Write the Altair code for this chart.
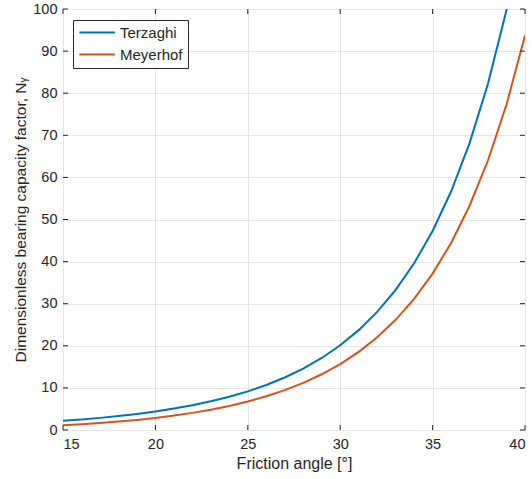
import altair as alt
import pandas as pd

# Friction angle in degrees
angle = list(range(15, 41))

# Bearing capacity factor N_gamma for each friction angle
terzaghi = [2.17, 2.50, 2.88, 3.32, 3.82, 4.41, 5.09, 5.88, 6.81, 7.90,
            9.18, 10.69, 12.47, 14.59, 17.11, 20.12, 23.72, 28.05, 33.27, 39.59,
            47.28, 56.65, 68.14, 82.28, 99.75, 121.45]
meyerhof = [1.13, 1.38, 1.66, 2.00, 2.40, 2.87, 3.42, 4.07, 4.82, 5.72,
            6.77, 8.00, 9.46, 11.19, 13.24, 15.67, 18.56, 22.02, 26.17, 31.15,
            37.15, 44.43, 53.27, 64.07, 77.31, 93.69]

methods = ["Terzaghi", "Meyerhof"]
colors = ["#0072BD", "#D95319"]

x_ticks = [15, 20, 25, 30, 35, 40]
y_ticks = [0, 10, 20, 30, 40, 50, 60, 70, 80, 90, 100]

W, H = 462, 421
INK = "#262626"
FONT = "Liberation Sans"

df = pd.DataFrame({
    "angle": angle * 2,
    "N": terzaghi + meyerhof,
    "method": ["Terzaghi"] * len(angle) + ["Meyerhof"] * len(angle),
})
xt = pd.DataFrame({"angle": x_ticks})
yt = pd.DataFrame({"N": y_ticks})

x_scale = alt.Scale(domain=[15, 40], nice=False, zero=False)
y_scale = alt.Scale(domain=[0, 100], nice=False)

x_axis = alt.Axis(values=x_ticks, title="Friction angle [°]", format="d",
                  labelPadding=7, titlePadding=5)
y_axis = alt.Axis(values=y_ticks, title="Dimensionless bearing capacity factor, Nᵧ",
                  format="d", labelPadding=6, titlePadding=4, titleFontSize=15.5)

# Legend line: a long horizontal stroke starting at the symbol's left edge
legend = alt.Legend(
    title=None, orient="none", legendX=10, legendY=11,
    symbolType="M -1 0 L 4.8 0", symbolSize=150, symbolStrokeWidth=2,
    labelFont=FONT, labelFontSize=15, labelColor=INK,
    fillColor="white", strokeColor=INK, padding=5,
    rowPadding=6, labelOffset=27,
)

lines = alt.Chart(df).mark_line(strokeWidth=2, clip=True).encode(
    x=alt.X("angle:Q", scale=x_scale, axis=x_axis),
    y=alt.Y("N:Q", scale=y_scale, axis=y_axis),
    color=alt.Color(
        "method:N",
        scale=alt.Scale(domain=methods, range=colors),
        sort=methods,
        legend=legend,
    ),
)

# Inward tick marks on all four sides of the box
tick_style = dict(color=INK, strokeWidth=1)
bottom_ticks = alt.Chart(xt).mark_rule(**tick_style).encode(
    x=alt.X("angle:Q", scale=x_scale), y=alt.value(H), y2=alt.value(H - 5))
top_ticks = alt.Chart(xt).mark_rule(**tick_style).encode(
    x=alt.X("angle:Q", scale=x_scale), y=alt.value(0), y2=alt.value(5))
left_ticks = alt.Chart(yt).mark_rule(**tick_style).encode(
    y=alt.Y("N:Q", scale=y_scale), x=alt.value(0), x2=alt.value(5))
right_ticks = alt.Chart(yt).mark_rule(**tick_style).encode(
    y=alt.Y("N:Q", scale=y_scale), x=alt.value(W), x2=alt.value(W - 5))

chart = alt.layer(lines, bottom_ticks, top_ticks, left_ticks, right_ticks).properties(
    width=W, height=H,
    autosize=alt.AutoSizeParams(type="none"),
    padding={"left": 63, "top": 9, "right": 7, "bottom": 49},
).configure_view(
    stroke=INK, strokeWidth=1,
).configure_axis(
    domain=False, ticks=False, grid=True, gridColor="#e6e6e6", gridWidth=1,
    labelFont=FONT, labelFontSize=14.5, labelColor=INK,
    titleFont=FONT, titleFontSize=16, titleFontWeight="normal", titleColor=INK,
)

chart.save("out.html", embed_options={"renderer": "svg", "actions": False})
